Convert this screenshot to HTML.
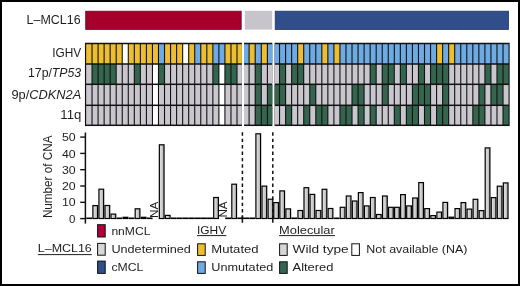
<!DOCTYPE html>
<html><head><meta charset="utf-8">
<style>
html,body{margin:0;padding:0;background:#fff;}
body{width:520px;height:286px;overflow:hidden;position:relative;}
#frame{position:absolute;left:0;top:0;width:520px;height:286px;box-sizing:border-box;border:2px solid #000;}
svg{position:absolute;left:0;top:0;will-change:transform;}
.t{font-family:"Liberation Sans", sans-serif;fill:#1e1e1e;}
</style></head>
<body>
<svg width="520" height="286" viewBox="0 0 520 286">
<defs>
<linearGradient id="bg" x1="0" x2="1" y1="0" y2="0">
<stop offset="0" stop-color="#e2e2e2"/><stop offset="0.5" stop-color="#cfcfcf"/><stop offset="1" stop-color="#a9a9a9"/>
</linearGradient>
</defs>
<rect x="84.95" y="42.75" width="156.95" height="83.3" fill="#111"/>
<rect x="86.15" y="44.25" width="5.34" height="19" fill="#ecbe30"/>
<rect x="92.59" y="44.25" width="4.94" height="19" fill="#ecbe30"/>
<rect x="98.63" y="44.25" width="4.94" height="19" fill="#ecbe30"/>
<rect x="104.67" y="44.25" width="4.94" height="19" fill="#ecbe30"/>
<rect x="110.71" y="44.25" width="4.94" height="19" fill="#ecbe30"/>
<rect x="116.75" y="44.25" width="4.94" height="19" fill="#ecbe30"/>
<rect x="122.79" y="44.25" width="4.94" height="19" fill="#ffffff"/>
<rect x="128.83" y="44.25" width="4.94" height="19" fill="#ecbe30"/>
<rect x="134.87" y="44.25" width="4.94" height="19" fill="#ecbe30"/>
<rect x="140.91" y="44.25" width="4.94" height="19" fill="#ecbe30"/>
<rect x="146.95" y="44.25" width="4.94" height="19" fill="#ecbe30"/>
<rect x="152.99" y="44.25" width="4.94" height="19" fill="#ecbe30"/>
<rect x="159.03" y="44.25" width="4.94" height="19" fill="#6eaae4"/>
<rect x="165.07" y="44.25" width="4.94" height="19" fill="#ecbe30"/>
<rect x="171.11" y="44.25" width="4.94" height="19" fill="#ecbe30"/>
<rect x="177.15" y="44.25" width="4.94" height="19" fill="#ecbe30"/>
<rect x="183.19" y="44.25" width="4.94" height="19" fill="#ffffff"/>
<rect x="189.23" y="44.25" width="4.94" height="19" fill="#ecbe30"/>
<rect x="195.27" y="44.25" width="4.94" height="19" fill="#6eaae4"/>
<rect x="201.31" y="44.25" width="4.94" height="19" fill="#ecbe30"/>
<rect x="207.35" y="44.25" width="4.94" height="19" fill="#ecbe30"/>
<rect x="213.39" y="44.25" width="4.94" height="19" fill="#6eaae4"/>
<rect x="219.43" y="44.25" width="4.94" height="19" fill="#6eaae4"/>
<rect x="225.47" y="44.25" width="4.94" height="19" fill="#ecbe30"/>
<rect x="231.51" y="44.25" width="4.94" height="19" fill="#ecbe30"/>
<rect x="237.55" y="44.25" width="4.35" height="19" fill="#ecbe30"/>
<rect x="86.15" y="64.75" width="5.34" height="18.8" fill="#c9c7cd"/>
<rect x="92.59" y="64.75" width="4.94" height="18.8" fill="#35654f"/>
<rect x="98.63" y="64.75" width="4.94" height="18.8" fill="#35654f"/>
<rect x="104.67" y="64.75" width="4.94" height="18.8" fill="#35654f"/>
<rect x="110.71" y="64.75" width="4.94" height="18.8" fill="#35654f"/>
<rect x="116.75" y="64.75" width="4.94" height="18.8" fill="#c9c7cd"/>
<rect x="122.79" y="64.75" width="4.94" height="18.8" fill="#c9c7cd"/>
<rect x="128.83" y="64.75" width="4.94" height="18.8" fill="#c9c7cd"/>
<rect x="134.87" y="64.75" width="4.94" height="18.8" fill="#35654f"/>
<rect x="140.91" y="64.75" width="4.94" height="18.8" fill="#c9c7cd"/>
<rect x="146.95" y="64.75" width="4.94" height="18.8" fill="#c9c7cd"/>
<rect x="152.99" y="64.75" width="4.94" height="18.8" fill="#ffffff"/>
<rect x="159.03" y="64.75" width="4.94" height="18.8" fill="#35654f"/>
<rect x="165.07" y="64.75" width="4.94" height="18.8" fill="#c9c7cd"/>
<rect x="171.11" y="64.75" width="4.94" height="18.8" fill="#c9c7cd"/>
<rect x="177.15" y="64.75" width="4.94" height="18.8" fill="#c9c7cd"/>
<rect x="183.19" y="64.75" width="4.94" height="18.8" fill="#c9c7cd"/>
<rect x="189.23" y="64.75" width="4.94" height="18.8" fill="#c9c7cd"/>
<rect x="195.27" y="64.75" width="4.94" height="18.8" fill="#c9c7cd"/>
<rect x="201.31" y="64.75" width="4.94" height="18.8" fill="#c9c7cd"/>
<rect x="207.35" y="64.75" width="4.94" height="18.8" fill="#c9c7cd"/>
<rect x="213.39" y="64.75" width="4.94" height="18.8" fill="#35654f"/>
<rect x="219.43" y="64.75" width="4.94" height="18.8" fill="#ffffff"/>
<rect x="225.47" y="64.75" width="4.94" height="18.8" fill="#35654f"/>
<rect x="231.51" y="64.75" width="4.94" height="18.8" fill="#35654f"/>
<rect x="237.55" y="64.75" width="4.35" height="18.8" fill="#c9c7cd"/>
<rect x="86.15" y="85.05" width="5.34" height="19.5" fill="#c9c7cd"/>
<rect x="92.59" y="85.05" width="4.94" height="19.5" fill="#c9c7cd"/>
<rect x="98.63" y="85.05" width="4.94" height="19.5" fill="#c9c7cd"/>
<rect x="104.67" y="85.05" width="4.94" height="19.5" fill="#c9c7cd"/>
<rect x="110.71" y="85.05" width="4.94" height="19.5" fill="#c9c7cd"/>
<rect x="116.75" y="85.05" width="4.94" height="19.5" fill="#c9c7cd"/>
<rect x="122.79" y="85.05" width="4.94" height="19.5" fill="#c9c7cd"/>
<rect x="128.83" y="85.05" width="4.94" height="19.5" fill="#c9c7cd"/>
<rect x="134.87" y="85.05" width="4.94" height="19.5" fill="#c9c7cd"/>
<rect x="140.91" y="85.05" width="4.94" height="19.5" fill="#c9c7cd"/>
<rect x="146.95" y="85.05" width="4.94" height="19.5" fill="#c9c7cd"/>
<rect x="152.99" y="85.05" width="4.94" height="19.5" fill="#ffffff"/>
<rect x="159.03" y="85.05" width="4.94" height="19.5" fill="#c9c7cd"/>
<rect x="165.07" y="85.05" width="4.94" height="19.5" fill="#c9c7cd"/>
<rect x="171.11" y="85.05" width="4.94" height="19.5" fill="#c9c7cd"/>
<rect x="177.15" y="85.05" width="4.94" height="19.5" fill="#c9c7cd"/>
<rect x="183.19" y="85.05" width="4.94" height="19.5" fill="#c9c7cd"/>
<rect x="189.23" y="85.05" width="4.94" height="19.5" fill="#c9c7cd"/>
<rect x="195.27" y="85.05" width="4.94" height="19.5" fill="#c9c7cd"/>
<rect x="201.31" y="85.05" width="4.94" height="19.5" fill="#c9c7cd"/>
<rect x="207.35" y="85.05" width="4.94" height="19.5" fill="#c9c7cd"/>
<rect x="213.39" y="85.05" width="4.94" height="19.5" fill="#c9c7cd"/>
<rect x="219.43" y="85.05" width="4.94" height="19.5" fill="#ffffff"/>
<rect x="225.47" y="85.05" width="4.94" height="19.5" fill="#c9c7cd"/>
<rect x="231.51" y="85.05" width="4.94" height="19.5" fill="#c9c7cd"/>
<rect x="237.55" y="85.05" width="4.35" height="19.5" fill="#c9c7cd"/>
<rect x="86.15" y="106.05" width="5.34" height="18.5" fill="#c9c7cd"/>
<rect x="92.59" y="106.05" width="4.94" height="18.5" fill="#c9c7cd"/>
<rect x="98.63" y="106.05" width="4.94" height="18.5" fill="#c9c7cd"/>
<rect x="104.67" y="106.05" width="4.94" height="18.5" fill="#c9c7cd"/>
<rect x="110.71" y="106.05" width="4.94" height="18.5" fill="#c9c7cd"/>
<rect x="116.75" y="106.05" width="4.94" height="18.5" fill="#c9c7cd"/>
<rect x="122.79" y="106.05" width="4.94" height="18.5" fill="#c9c7cd"/>
<rect x="128.83" y="106.05" width="4.94" height="18.5" fill="#c9c7cd"/>
<rect x="134.87" y="106.05" width="4.94" height="18.5" fill="#c9c7cd"/>
<rect x="140.91" y="106.05" width="4.94" height="18.5" fill="#c9c7cd"/>
<rect x="146.95" y="106.05" width="4.94" height="18.5" fill="#c9c7cd"/>
<rect x="152.99" y="106.05" width="4.94" height="18.5" fill="#ffffff"/>
<rect x="159.03" y="106.05" width="4.94" height="18.5" fill="#c9c7cd"/>
<rect x="165.07" y="106.05" width="4.94" height="18.5" fill="#c9c7cd"/>
<rect x="171.11" y="106.05" width="4.94" height="18.5" fill="#c9c7cd"/>
<rect x="177.15" y="106.05" width="4.94" height="18.5" fill="#c9c7cd"/>
<rect x="183.19" y="106.05" width="4.94" height="18.5" fill="#c9c7cd"/>
<rect x="189.23" y="106.05" width="4.94" height="18.5" fill="#c9c7cd"/>
<rect x="195.27" y="106.05" width="4.94" height="18.5" fill="#c9c7cd"/>
<rect x="201.31" y="106.05" width="4.94" height="18.5" fill="#c9c7cd"/>
<rect x="207.35" y="106.05" width="4.94" height="18.5" fill="#c9c7cd"/>
<rect x="213.39" y="106.05" width="4.94" height="18.5" fill="#c9c7cd"/>
<rect x="219.43" y="106.05" width="4.94" height="18.5" fill="#ffffff"/>
<rect x="225.47" y="106.05" width="4.94" height="18.5" fill="#c9c7cd"/>
<rect x="231.51" y="106.05" width="4.94" height="18.5" fill="#c9c7cd"/>
<rect x="237.55" y="106.05" width="4.35" height="18.5" fill="#c9c7cd"/>
<rect x="244" y="42.75" width="28.3" height="83.3" fill="#111"/>
<rect x="244" y="44.25" width="4.55" height="19" fill="#6eaae4"/>
<rect x="249.65" y="44.25" width="5" height="19" fill="#ecbe30"/>
<rect x="255.75" y="44.25" width="5" height="19" fill="#6eaae4"/>
<rect x="261.85" y="44.25" width="5" height="19" fill="#ecbe30"/>
<rect x="267.95" y="44.25" width="4.35" height="19" fill="#6eaae4"/>
<rect x="244" y="64.75" width="4.55" height="18.8" fill="#c9c7cd"/>
<rect x="249.65" y="64.75" width="5" height="18.8" fill="#c9c7cd"/>
<rect x="255.75" y="64.75" width="5" height="18.8" fill="#35654f"/>
<rect x="261.85" y="64.75" width="5" height="18.8" fill="#c9c7cd"/>
<rect x="267.95" y="64.75" width="4.35" height="18.8" fill="#c9c7cd"/>
<rect x="244" y="85.05" width="4.55" height="19.5" fill="#c9c7cd"/>
<rect x="249.65" y="85.05" width="5" height="19.5" fill="#c9c7cd"/>
<rect x="255.75" y="85.05" width="5" height="19.5" fill="#35654f"/>
<rect x="261.85" y="85.05" width="5" height="19.5" fill="#c9c7cd"/>
<rect x="267.95" y="85.05" width="4.35" height="19.5" fill="#35654f"/>
<rect x="244" y="106.05" width="4.55" height="18.5" fill="#c9c7cd"/>
<rect x="249.65" y="106.05" width="5" height="18.5" fill="#c9c7cd"/>
<rect x="255.75" y="106.05" width="5" height="18.5" fill="#35654f"/>
<rect x="261.85" y="106.05" width="5" height="18.5" fill="#35654f"/>
<rect x="267.95" y="106.05" width="4.35" height="18.5" fill="#35654f"/>
<rect x="274.6" y="42.75" width="235.05" height="83.3" fill="#111"/>
<rect x="274.6" y="44.25" width="4.39" height="19" fill="#6eaae4"/>
<rect x="280.09" y="44.25" width="4.94" height="19" fill="#6eaae4"/>
<rect x="286.13" y="44.25" width="4.94" height="19" fill="#6eaae4"/>
<rect x="292.17" y="44.25" width="4.94" height="19" fill="#6eaae4"/>
<rect x="298.21" y="44.25" width="4.94" height="19" fill="#ecbe30"/>
<rect x="304.25" y="44.25" width="4.94" height="19" fill="#6eaae4"/>
<rect x="310.29" y="44.25" width="4.94" height="19" fill="#6eaae4"/>
<rect x="316.33" y="44.25" width="4.94" height="19" fill="#6eaae4"/>
<rect x="322.37" y="44.25" width="4.94" height="19" fill="#ecbe30"/>
<rect x="328.41" y="44.25" width="4.94" height="19" fill="#6eaae4"/>
<rect x="334.45" y="44.25" width="4.94" height="19" fill="#ecbe30"/>
<rect x="340.49" y="44.25" width="4.94" height="19" fill="#6eaae4"/>
<rect x="346.53" y="44.25" width="4.94" height="19" fill="#6eaae4"/>
<rect x="352.57" y="44.25" width="4.94" height="19" fill="#6eaae4"/>
<rect x="358.61" y="44.25" width="4.94" height="19" fill="#6eaae4"/>
<rect x="364.65" y="44.25" width="4.94" height="19" fill="#6eaae4"/>
<rect x="370.69" y="44.25" width="4.94" height="19" fill="#6eaae4"/>
<rect x="376.73" y="44.25" width="4.94" height="19" fill="#6eaae4"/>
<rect x="382.77" y="44.25" width="4.94" height="19" fill="#6eaae4"/>
<rect x="388.81" y="44.25" width="4.94" height="19" fill="#6eaae4"/>
<rect x="394.85" y="44.25" width="4.94" height="19" fill="#6eaae4"/>
<rect x="400.89" y="44.25" width="4.94" height="19" fill="#6eaae4"/>
<rect x="406.93" y="44.25" width="4.94" height="19" fill="#6eaae4"/>
<rect x="412.97" y="44.25" width="4.94" height="19" fill="#6eaae4"/>
<rect x="419.01" y="44.25" width="4.94" height="19" fill="#6eaae4"/>
<rect x="425.05" y="44.25" width="4.94" height="19" fill="#6eaae4"/>
<rect x="431.09" y="44.25" width="4.94" height="19" fill="#6eaae4"/>
<rect x="437.13" y="44.25" width="4.94" height="19" fill="#ecbe30"/>
<rect x="443.17" y="44.25" width="4.94" height="19" fill="#6eaae4"/>
<rect x="449.21" y="44.25" width="4.94" height="19" fill="#ecbe30"/>
<rect x="455.25" y="44.25" width="4.94" height="19" fill="#6eaae4"/>
<rect x="461.29" y="44.25" width="4.94" height="19" fill="#6eaae4"/>
<rect x="467.33" y="44.25" width="4.94" height="19" fill="#6eaae4"/>
<rect x="473.37" y="44.25" width="4.94" height="19" fill="#6eaae4"/>
<rect x="479.41" y="44.25" width="4.94" height="19" fill="#6eaae4"/>
<rect x="485.45" y="44.25" width="4.94" height="19" fill="#6eaae4"/>
<rect x="491.49" y="44.25" width="4.94" height="19" fill="#6eaae4"/>
<rect x="497.53" y="44.25" width="4.94" height="19" fill="#6eaae4"/>
<rect x="503.57" y="44.25" width="4.94" height="19" fill="#6eaae4"/>
<rect x="274.6" y="64.75" width="4.39" height="18.8" fill="#c9c7cd"/>
<rect x="280.09" y="64.75" width="4.94" height="18.8" fill="#35654f"/>
<rect x="286.13" y="64.75" width="4.94" height="18.8" fill="#c9c7cd"/>
<rect x="292.17" y="64.75" width="4.94" height="18.8" fill="#35654f"/>
<rect x="298.21" y="64.75" width="4.94" height="18.8" fill="#35654f"/>
<rect x="304.25" y="64.75" width="4.94" height="18.8" fill="#c9c7cd"/>
<rect x="310.29" y="64.75" width="4.94" height="18.8" fill="#c9c7cd"/>
<rect x="316.33" y="64.75" width="4.94" height="18.8" fill="#c9c7cd"/>
<rect x="322.37" y="64.75" width="4.94" height="18.8" fill="#c9c7cd"/>
<rect x="328.41" y="64.75" width="4.94" height="18.8" fill="#c9c7cd"/>
<rect x="334.45" y="64.75" width="4.94" height="18.8" fill="#c9c7cd"/>
<rect x="340.49" y="64.75" width="4.94" height="18.8" fill="#c9c7cd"/>
<rect x="346.53" y="64.75" width="4.94" height="18.8" fill="#c9c7cd"/>
<rect x="352.57" y="64.75" width="4.94" height="18.8" fill="#c9c7cd"/>
<rect x="358.61" y="64.75" width="4.94" height="18.8" fill="#c9c7cd"/>
<rect x="364.65" y="64.75" width="4.94" height="18.8" fill="#c9c7cd"/>
<rect x="370.69" y="64.75" width="4.94" height="18.8" fill="#35654f"/>
<rect x="376.73" y="64.75" width="4.94" height="18.8" fill="#c9c7cd"/>
<rect x="382.77" y="64.75" width="4.94" height="18.8" fill="#35654f"/>
<rect x="388.81" y="64.75" width="4.94" height="18.8" fill="#35654f"/>
<rect x="394.85" y="64.75" width="4.94" height="18.8" fill="#c9c7cd"/>
<rect x="400.89" y="64.75" width="4.94" height="18.8" fill="#35654f"/>
<rect x="406.93" y="64.75" width="4.94" height="18.8" fill="#c9c7cd"/>
<rect x="412.97" y="64.75" width="4.94" height="18.8" fill="#c9c7cd"/>
<rect x="419.01" y="64.75" width="4.94" height="18.8" fill="#35654f"/>
<rect x="425.05" y="64.75" width="4.94" height="18.8" fill="#c9c7cd"/>
<rect x="431.09" y="64.75" width="4.94" height="18.8" fill="#35654f"/>
<rect x="437.13" y="64.75" width="4.94" height="18.8" fill="#35654f"/>
<rect x="443.17" y="64.75" width="4.94" height="18.8" fill="#35654f"/>
<rect x="449.21" y="64.75" width="4.94" height="18.8" fill="#c9c7cd"/>
<rect x="455.25" y="64.75" width="4.94" height="18.8" fill="#c9c7cd"/>
<rect x="461.29" y="64.75" width="4.94" height="18.8" fill="#c9c7cd"/>
<rect x="467.33" y="64.75" width="4.94" height="18.8" fill="#c9c7cd"/>
<rect x="473.37" y="64.75" width="4.94" height="18.8" fill="#c9c7cd"/>
<rect x="479.41" y="64.75" width="4.94" height="18.8" fill="#c9c7cd"/>
<rect x="485.45" y="64.75" width="4.94" height="18.8" fill="#35654f"/>
<rect x="491.49" y="64.75" width="4.94" height="18.8" fill="#c9c7cd"/>
<rect x="497.53" y="64.75" width="4.94" height="18.8" fill="#35654f"/>
<rect x="503.57" y="64.75" width="4.94" height="18.8" fill="#35654f"/>
<rect x="274.6" y="85.05" width="4.39" height="19.5" fill="#35654f"/>
<rect x="280.09" y="85.05" width="4.94" height="19.5" fill="#35654f"/>
<rect x="286.13" y="85.05" width="4.94" height="19.5" fill="#c9c7cd"/>
<rect x="292.17" y="85.05" width="4.94" height="19.5" fill="#c9c7cd"/>
<rect x="298.21" y="85.05" width="4.94" height="19.5" fill="#c9c7cd"/>
<rect x="304.25" y="85.05" width="4.94" height="19.5" fill="#c9c7cd"/>
<rect x="310.29" y="85.05" width="4.94" height="19.5" fill="#35654f"/>
<rect x="316.33" y="85.05" width="4.94" height="19.5" fill="#c9c7cd"/>
<rect x="322.37" y="85.05" width="4.94" height="19.5" fill="#c9c7cd"/>
<rect x="328.41" y="85.05" width="4.94" height="19.5" fill="#c9c7cd"/>
<rect x="334.45" y="85.05" width="4.94" height="19.5" fill="#c9c7cd"/>
<rect x="340.49" y="85.05" width="4.94" height="19.5" fill="#c9c7cd"/>
<rect x="346.53" y="85.05" width="4.94" height="19.5" fill="#c9c7cd"/>
<rect x="352.57" y="85.05" width="4.94" height="19.5" fill="#35654f"/>
<rect x="358.61" y="85.05" width="4.94" height="19.5" fill="#35654f"/>
<rect x="364.65" y="85.05" width="4.94" height="19.5" fill="#c9c7cd"/>
<rect x="370.69" y="85.05" width="4.94" height="19.5" fill="#c9c7cd"/>
<rect x="376.73" y="85.05" width="4.94" height="19.5" fill="#c9c7cd"/>
<rect x="382.77" y="85.05" width="4.94" height="19.5" fill="#35654f"/>
<rect x="388.81" y="85.05" width="4.94" height="19.5" fill="#c9c7cd"/>
<rect x="394.85" y="85.05" width="4.94" height="19.5" fill="#c9c7cd"/>
<rect x="400.89" y="85.05" width="4.94" height="19.5" fill="#c9c7cd"/>
<rect x="406.93" y="85.05" width="4.94" height="19.5" fill="#c9c7cd"/>
<rect x="412.97" y="85.05" width="4.94" height="19.5" fill="#35654f"/>
<rect x="419.01" y="85.05" width="4.94" height="19.5" fill="#35654f"/>
<rect x="425.05" y="85.05" width="4.94" height="19.5" fill="#35654f"/>
<rect x="431.09" y="85.05" width="4.94" height="19.5" fill="#c9c7cd"/>
<rect x="437.13" y="85.05" width="4.94" height="19.5" fill="#c9c7cd"/>
<rect x="443.17" y="85.05" width="4.94" height="19.5" fill="#35654f"/>
<rect x="449.21" y="85.05" width="4.94" height="19.5" fill="#c9c7cd"/>
<rect x="455.25" y="85.05" width="4.94" height="19.5" fill="#c9c7cd"/>
<rect x="461.29" y="85.05" width="4.94" height="19.5" fill="#c9c7cd"/>
<rect x="467.33" y="85.05" width="4.94" height="19.5" fill="#c9c7cd"/>
<rect x="473.37" y="85.05" width="4.94" height="19.5" fill="#c9c7cd"/>
<rect x="479.41" y="85.05" width="4.94" height="19.5" fill="#35654f"/>
<rect x="485.45" y="85.05" width="4.94" height="19.5" fill="#c9c7cd"/>
<rect x="491.49" y="85.05" width="4.94" height="19.5" fill="#35654f"/>
<rect x="497.53" y="85.05" width="4.94" height="19.5" fill="#35654f"/>
<rect x="503.57" y="85.05" width="4.94" height="19.5" fill="#c9c7cd"/>
<rect x="274.6" y="106.05" width="4.39" height="18.5" fill="#c9c7cd"/>
<rect x="280.09" y="106.05" width="4.94" height="18.5" fill="#c9c7cd"/>
<rect x="286.13" y="106.05" width="4.94" height="18.5" fill="#35654f"/>
<rect x="292.17" y="106.05" width="4.94" height="18.5" fill="#c9c7cd"/>
<rect x="298.21" y="106.05" width="4.94" height="18.5" fill="#c9c7cd"/>
<rect x="304.25" y="106.05" width="4.94" height="18.5" fill="#35654f"/>
<rect x="310.29" y="106.05" width="4.94" height="18.5" fill="#c9c7cd"/>
<rect x="316.33" y="106.05" width="4.94" height="18.5" fill="#35654f"/>
<rect x="322.37" y="106.05" width="4.94" height="18.5" fill="#35654f"/>
<rect x="328.41" y="106.05" width="4.94" height="18.5" fill="#c9c7cd"/>
<rect x="334.45" y="106.05" width="4.94" height="18.5" fill="#c9c7cd"/>
<rect x="340.49" y="106.05" width="4.94" height="18.5" fill="#35654f"/>
<rect x="346.53" y="106.05" width="4.94" height="18.5" fill="#35654f"/>
<rect x="352.57" y="106.05" width="4.94" height="18.5" fill="#c9c7cd"/>
<rect x="358.61" y="106.05" width="4.94" height="18.5" fill="#35654f"/>
<rect x="364.65" y="106.05" width="4.94" height="18.5" fill="#c9c7cd"/>
<rect x="370.69" y="106.05" width="4.94" height="18.5" fill="#35654f"/>
<rect x="376.73" y="106.05" width="4.94" height="18.5" fill="#c9c7cd"/>
<rect x="382.77" y="106.05" width="4.94" height="18.5" fill="#c9c7cd"/>
<rect x="388.81" y="106.05" width="4.94" height="18.5" fill="#c9c7cd"/>
<rect x="394.85" y="106.05" width="4.94" height="18.5" fill="#35654f"/>
<rect x="400.89" y="106.05" width="4.94" height="18.5" fill="#c9c7cd"/>
<rect x="406.93" y="106.05" width="4.94" height="18.5" fill="#35654f"/>
<rect x="412.97" y="106.05" width="4.94" height="18.5" fill="#35654f"/>
<rect x="419.01" y="106.05" width="4.94" height="18.5" fill="#c9c7cd"/>
<rect x="425.05" y="106.05" width="4.94" height="18.5" fill="#35654f"/>
<rect x="431.09" y="106.05" width="4.94" height="18.5" fill="#c9c7cd"/>
<rect x="437.13" y="106.05" width="4.94" height="18.5" fill="#35654f"/>
<rect x="443.17" y="106.05" width="4.94" height="18.5" fill="#35654f"/>
<rect x="449.21" y="106.05" width="4.94" height="18.5" fill="#c9c7cd"/>
<rect x="455.25" y="106.05" width="4.94" height="18.5" fill="#c9c7cd"/>
<rect x="461.29" y="106.05" width="4.94" height="18.5" fill="#c9c7cd"/>
<rect x="467.33" y="106.05" width="4.94" height="18.5" fill="#c9c7cd"/>
<rect x="473.37" y="106.05" width="4.94" height="18.5" fill="#35654f"/>
<rect x="479.41" y="106.05" width="4.94" height="18.5" fill="#35654f"/>
<rect x="485.45" y="106.05" width="4.94" height="18.5" fill="#c9c7cd"/>
<rect x="491.49" y="106.05" width="4.94" height="18.5" fill="#c9c7cd"/>
<rect x="497.53" y="106.05" width="4.94" height="18.5" fill="#c9c7cd"/>
<rect x="503.57" y="106.05" width="4.94" height="18.5" fill="#35654f"/>
<rect x="85.7" y="11.2" width="155.5" height="18.2" fill="#a5002b" stroke="#7a0020" stroke-width="0.8"/>
<rect x="244.8" y="10.8" width="27.4" height="18.8" fill="#c7c5cb"/>
<rect x="275.2" y="11.2" width="233.3" height="18.2" fill="#304e8a" stroke="#1f3463" stroke-width="0.8"/>
<rect x="86.86" y="218.1" width="4.7" height="0.4" fill="url(#bg)" stroke="#000" stroke-width="1.2"/>
<rect x="92.9" y="205.6" width="4.7" height="12.9" fill="url(#bg)" stroke="#000" stroke-width="1.2"/>
<rect x="98.94" y="189.2" width="4.7" height="29.3" fill="url(#bg)" stroke="#000" stroke-width="1.2"/>
<rect x="104.98" y="205.5" width="4.7" height="13" fill="url(#bg)" stroke="#000" stroke-width="1.2"/>
<rect x="111.02" y="214.1" width="4.7" height="4.4" fill="url(#bg)" stroke="#000" stroke-width="1.2"/>
<rect x="117.06" y="218.1" width="4.7" height="0.4" fill="url(#bg)" stroke="#000" stroke-width="1.2"/>
<rect x="123.1" y="217.3" width="4.7" height="1.2" fill="url(#bg)" stroke="#000" stroke-width="1.2"/>
<rect x="129.14" y="218.1" width="4.7" height="0.4" fill="url(#bg)" stroke="#000" stroke-width="1.2"/>
<rect x="135.18" y="208.8" width="4.7" height="9.7" fill="url(#bg)" stroke="#000" stroke-width="1.2"/>
<rect x="141.22" y="217.3" width="4.7" height="1.2" fill="url(#bg)" stroke="#000" stroke-width="1.2"/>
<rect x="147.26" y="218.1" width="4.7" height="0.4" fill="url(#bg)" stroke="#000" stroke-width="1.2"/>
<rect x="159.34" y="144.8" width="4.7" height="73.7" fill="url(#bg)" stroke="#000" stroke-width="1.2"/>
<rect x="165.38" y="215.4" width="4.7" height="3.1" fill="url(#bg)" stroke="#000" stroke-width="1.2"/>
<rect x="171.42" y="218.1" width="4.7" height="0.4" fill="url(#bg)" stroke="#000" stroke-width="1.2"/>
<rect x="177.46" y="218.1" width="4.7" height="0.4" fill="url(#bg)" stroke="#000" stroke-width="1.2"/>
<rect x="183.5" y="218.1" width="4.7" height="0.4" fill="url(#bg)" stroke="#000" stroke-width="1.2"/>
<rect x="189.54" y="218.1" width="4.7" height="0.4" fill="url(#bg)" stroke="#000" stroke-width="1.2"/>
<rect x="195.58" y="218.1" width="4.7" height="0.4" fill="url(#bg)" stroke="#000" stroke-width="1.2"/>
<rect x="201.62" y="218.1" width="4.7" height="0.4" fill="url(#bg)" stroke="#000" stroke-width="1.2"/>
<rect x="207.66" y="218.1" width="4.7" height="0.4" fill="url(#bg)" stroke="#000" stroke-width="1.2"/>
<rect x="213.7" y="197.5" width="4.7" height="21" fill="url(#bg)" stroke="#000" stroke-width="1.2"/>
<rect x="225.78" y="218.1" width="4.7" height="0.4" fill="url(#bg)" stroke="#000" stroke-width="1.2"/>
<rect x="231.82" y="184.2" width="4.7" height="34.3" fill="url(#bg)" stroke="#000" stroke-width="1.2"/>
<rect x="237.86" y="218.1" width="4.7" height="0.4" fill="url(#bg)" stroke="#000" stroke-width="1.2"/>
<rect x="243.7" y="218.1" width="4.7" height="0.4" fill="url(#bg)" stroke="#000" stroke-width="1.2"/>
<rect x="249.8" y="218.1" width="4.7" height="0.4" fill="url(#bg)" stroke="#000" stroke-width="1.2"/>
<rect x="255.9" y="133.8" width="4.7" height="84.7" fill="url(#bg)" stroke="#000" stroke-width="1.2"/>
<rect x="262" y="186.1" width="4.7" height="32.4" fill="url(#bg)" stroke="#000" stroke-width="1.2"/>
<rect x="268.1" y="199.2" width="4.7" height="19.3" fill="url(#bg)" stroke="#000" stroke-width="1.2"/>
<rect x="273.8" y="202.6" width="4.7" height="15.9" fill="url(#bg)" stroke="#000" stroke-width="1.2"/>
<rect x="279.84" y="190.9" width="4.7" height="27.6" fill="url(#bg)" stroke="#000" stroke-width="1.2"/>
<rect x="285.88" y="208.9" width="4.7" height="9.6" fill="url(#bg)" stroke="#000" stroke-width="1.2"/>
<rect x="291.92" y="218.1" width="4.7" height="0.4" fill="url(#bg)" stroke="#000" stroke-width="1.2"/>
<rect x="297.96" y="210.5" width="4.7" height="8" fill="url(#bg)" stroke="#000" stroke-width="1.2"/>
<rect x="304" y="187.7" width="4.7" height="30.8" fill="url(#bg)" stroke="#000" stroke-width="1.2"/>
<rect x="310.04" y="194.4" width="4.7" height="24.1" fill="url(#bg)" stroke="#000" stroke-width="1.2"/>
<rect x="316.08" y="210.5" width="4.7" height="8" fill="url(#bg)" stroke="#000" stroke-width="1.2"/>
<rect x="322.12" y="189.3" width="4.7" height="29.2" fill="url(#bg)" stroke="#000" stroke-width="1.2"/>
<rect x="328.16" y="208.5" width="4.7" height="10" fill="url(#bg)" stroke="#000" stroke-width="1.2"/>
<rect x="334.2" y="218.1" width="4.7" height="0.4" fill="url(#bg)" stroke="#000" stroke-width="1.2"/>
<rect x="340.24" y="207.3" width="4.7" height="11.2" fill="url(#bg)" stroke="#000" stroke-width="1.2"/>
<rect x="346.28" y="196" width="4.7" height="22.5" fill="url(#bg)" stroke="#000" stroke-width="1.2"/>
<rect x="352.32" y="201" width="4.7" height="17.5" fill="url(#bg)" stroke="#000" stroke-width="1.2"/>
<rect x="358.36" y="192.6" width="4.7" height="25.9" fill="url(#bg)" stroke="#000" stroke-width="1.2"/>
<rect x="364.4" y="205.9" width="4.7" height="12.6" fill="url(#bg)" stroke="#000" stroke-width="1.2"/>
<rect x="370.44" y="197.5" width="4.7" height="21" fill="url(#bg)" stroke="#000" stroke-width="1.2"/>
<rect x="376.48" y="214.5" width="4.7" height="4" fill="url(#bg)" stroke="#000" stroke-width="1.2"/>
<rect x="382.52" y="196" width="4.7" height="22.5" fill="url(#bg)" stroke="#000" stroke-width="1.2"/>
<rect x="388.56" y="207.3" width="4.7" height="11.2" fill="url(#bg)" stroke="#000" stroke-width="1.2"/>
<rect x="394.6" y="207.3" width="4.7" height="11.2" fill="url(#bg)" stroke="#000" stroke-width="1.2"/>
<rect x="400.64" y="194.6" width="4.7" height="23.9" fill="url(#bg)" stroke="#000" stroke-width="1.2"/>
<rect x="406.68" y="205.9" width="4.7" height="12.6" fill="url(#bg)" stroke="#000" stroke-width="1.2"/>
<rect x="412.72" y="198" width="4.7" height="20.5" fill="url(#bg)" stroke="#000" stroke-width="1.2"/>
<rect x="418.76" y="182.6" width="4.7" height="35.9" fill="url(#bg)" stroke="#000" stroke-width="1.2"/>
<rect x="424.8" y="208.6" width="4.7" height="9.9" fill="url(#bg)" stroke="#000" stroke-width="1.2"/>
<rect x="430.84" y="215.6" width="4.7" height="2.9" fill="url(#bg)" stroke="#000" stroke-width="1.2"/>
<rect x="436.88" y="212.1" width="4.7" height="6.4" fill="url(#bg)" stroke="#000" stroke-width="1.2"/>
<rect x="442.92" y="202.4" width="4.7" height="16.1" fill="url(#bg)" stroke="#000" stroke-width="1.2"/>
<rect x="448.96" y="217.2" width="4.7" height="1.3" fill="url(#bg)" stroke="#000" stroke-width="1.2"/>
<rect x="455" y="208.6" width="4.7" height="9.9" fill="url(#bg)" stroke="#000" stroke-width="1.2"/>
<rect x="461.04" y="202.6" width="4.7" height="15.9" fill="url(#bg)" stroke="#000" stroke-width="1.2"/>
<rect x="467.08" y="209.1" width="4.7" height="9.4" fill="url(#bg)" stroke="#000" stroke-width="1.2"/>
<rect x="473.12" y="199.3" width="4.7" height="19.2" fill="url(#bg)" stroke="#000" stroke-width="1.2"/>
<rect x="479.16" y="210.6" width="4.7" height="7.9" fill="url(#bg)" stroke="#000" stroke-width="1.2"/>
<rect x="485.2" y="147.9" width="4.7" height="70.6" fill="url(#bg)" stroke="#000" stroke-width="1.2"/>
<rect x="491.24" y="197.6" width="4.7" height="20.9" fill="url(#bg)" stroke="#000" stroke-width="1.2"/>
<rect x="497.28" y="186.2" width="4.7" height="32.3" fill="url(#bg)" stroke="#000" stroke-width="1.2"/>
<rect x="503.32" y="182.9" width="4.7" height="35.6" fill="url(#bg)" stroke="#000" stroke-width="1.2"/>
<line x1="85.4" y1="132.5" x2="85.4" y2="223.6" stroke="#111" stroke-width="1.5"/>
<line x1="80.2" y1="218.6" x2="85.4" y2="218.6" stroke="#111" stroke-width="1.4"/>
<text x="68.9" y="222.7" class="t" font-size="11.6" textLength="6.4" lengthAdjust="spacingAndGlyphs">0</text>
<line x1="80.2" y1="202.3" x2="85.4" y2="202.3" stroke="#111" stroke-width="1.4"/>
<text x="62.0" y="206.4" class="t" font-size="11.6" textLength="13.7" lengthAdjust="spacingAndGlyphs">10</text>
<line x1="80.2" y1="186" x2="85.4" y2="186" stroke="#111" stroke-width="1.4"/>
<text x="62.0" y="190.1" class="t" font-size="11.6" textLength="13.7" lengthAdjust="spacingAndGlyphs">20</text>
<line x1="80.2" y1="169.7" x2="85.4" y2="169.7" stroke="#111" stroke-width="1.4"/>
<text x="62.0" y="173.8" class="t" font-size="11.6" textLength="13.7" lengthAdjust="spacingAndGlyphs">30</text>
<line x1="80.2" y1="153.4" x2="85.4" y2="153.4" stroke="#111" stroke-width="1.4"/>
<text x="62.0" y="157.5" class="t" font-size="11.6" textLength="13.7" lengthAdjust="spacingAndGlyphs">40</text>
<line x1="80.2" y1="137.1" x2="85.4" y2="137.1" stroke="#111" stroke-width="1.4"/>
<text x="62.0" y="141.2" class="t" font-size="11.6" textLength="13.7" lengthAdjust="spacingAndGlyphs">50</text>
<line x1="242.4" y1="132.3" x2="242.4" y2="218.5" stroke="#111" stroke-width="1.5" stroke-dasharray="3.4 3.0"/>
<line x1="242.4" y1="215.5" x2="242.4" y2="222.8" stroke="#111" stroke-width="1.5"/>
<line x1="272.8" y1="132.3" x2="272.8" y2="218.5" stroke="#111" stroke-width="1.5" stroke-dasharray="3.4 3.0"/>
<line x1="272.8" y1="215.5" x2="272.8" y2="222.8" stroke="#111" stroke-width="1.5"/>
<!-- labels -->
<text class="t" x="26.6" y="24.1" font-size="12" textLength="54" lengthAdjust="spacingAndGlyphs">L–MCL16</text>
<text class="t" x="52.2" y="57.3" font-size="12.2" textLength="29" lengthAdjust="spacingAndGlyphs">IGHV</text>
<text class="t" x="28" y="77.4" font-size="12.2" textLength="53.2" lengthAdjust="spacingAndGlyphs">17p/<tspan font-style="italic">TP53</tspan></text>
<text class="t" x="11.5" y="98.5" font-size="12.2" textLength="69.8" lengthAdjust="spacingAndGlyphs">9p/<tspan font-style="italic">CDKN2A</tspan></text>
<text class="t" x="60.3" y="118.6" font-size="12.2" textLength="21" lengthAdjust="spacingAndGlyphs">11q</text>
<text class="t" transform="translate(51.5,218.1) rotate(-90)" x="0" y="0" font-size="12" textLength="82.6" lengthAdjust="spacingAndGlyphs">Number of CNA</text>
<text class="t" transform="translate(157.9,218.0) rotate(-90)" x="0" y="0" font-size="10.6" textLength="16.2" lengthAdjust="spacingAndGlyphs">NA</text>
<text class="t" transform="translate(227.3,217.6) rotate(-90)" x="0" y="0" font-size="10.6" textLength="16.2" lengthAdjust="spacingAndGlyphs">NA</text>
<!-- legend -->
<text class="t" x="37.8" y="252.3" font-size="11.8" textLength="54" lengthAdjust="spacingAndGlyphs">L–MCL16</text>
<line x1="37.8" y1="254.6" x2="91.8" y2="254.6" stroke="#1e1e1e" stroke-width="1"/>
<text class="t" x="197" y="233.6" font-size="11.8" textLength="29.2" lengthAdjust="spacingAndGlyphs">IGHV</text>
<line x1="197" y1="235.6" x2="226.3" y2="235.6" stroke="#1e1e1e" stroke-width="1"/>
<text class="t" x="279.1" y="233.6" font-size="11.8" textLength="55.7" lengthAdjust="spacingAndGlyphs">Molecular</text>
<line x1="279.1" y1="235.6" x2="334.9" y2="235.6" stroke="#1e1e1e" stroke-width="1"/>

<rect x="97.6" y="224.7" width="7.6" height="12.3" fill="#b3003a" stroke="#111" stroke-width="1"/>
<rect x="97.6" y="243.4" width="7.6" height="11.8" fill="#d6d5d8" stroke="#111" stroke-width="1"/>
<rect x="97.6" y="261.1" width="7.6" height="12.3" fill="#304e8a" stroke="#111" stroke-width="1"/>
<rect x="197.6" y="243.8" width="7.6" height="11.6" fill="#ecbe30" stroke="#111" stroke-width="1"/>
<rect x="197.6" y="261.8" width="7.6" height="11.6" fill="#6eaae4" stroke="#111" stroke-width="1"/>
<rect x="279.6" y="243.8" width="7.6" height="11.6" fill="#d6d5d8" stroke="#111" stroke-width="1"/>
<rect x="279.6" y="261.8" width="7.6" height="11.6" fill="#35654f" stroke="#111" stroke-width="1"/>
<rect x="351.8" y="243.8" width="7.6" height="11.6" fill="#fff" stroke="#111" stroke-width="1"/>

<text class="t" x="111.4" y="234.6" font-size="11.8" textLength="39" lengthAdjust="spacingAndGlyphs">nnMCL</text>
<text class="t" x="111.4" y="252.5" font-size="11.8" textLength="79.5" lengthAdjust="spacingAndGlyphs">Undetermined</text>
<text class="t" x="111.4" y="270.7" font-size="11.8" textLength="32" lengthAdjust="spacingAndGlyphs">cMCL</text>
<text class="t" x="211.3" y="252.5" font-size="11.8" textLength="47.3" lengthAdjust="spacingAndGlyphs">Mutated</text>
<text class="t" x="211.3" y="270.7" font-size="11.8" textLength="62" lengthAdjust="spacingAndGlyphs">Unmutated</text>
<text class="t" x="292.5" y="252.5" font-size="11.8" textLength="56.2" lengthAdjust="spacingAndGlyphs">Wild type</text>
<text class="t" x="292.5" y="270.7" font-size="11.8" textLength="41" lengthAdjust="spacingAndGlyphs">Altered</text>
<text class="t" x="366.3" y="252.5" font-size="11.8" textLength="101.2" lengthAdjust="spacingAndGlyphs">Not available (NA)</text>
</svg>
<div id="frame"></div>
</body></html>
